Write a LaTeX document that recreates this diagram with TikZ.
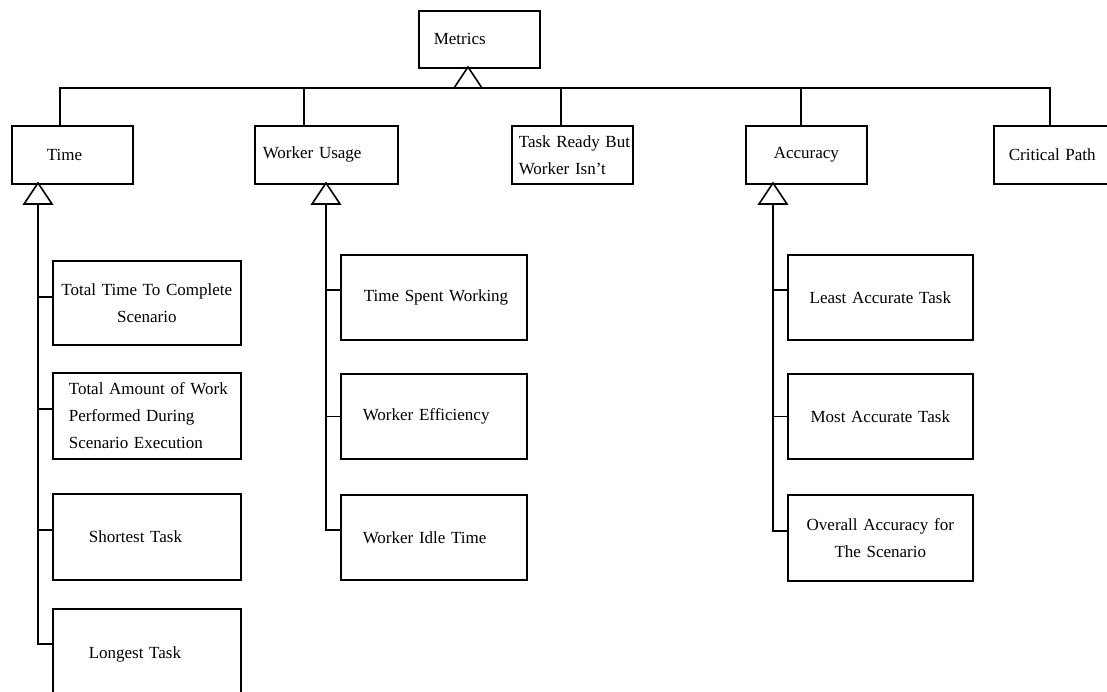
\documentclass[tikz,border=0pt]{standalone}
\usepackage{fontspec}
\setmainfont{Liberation Serif}
\begin{document}
\begin{tikzpicture}[x=1pt, y=-1pt, line width=1.6pt,
  box/.style={draw, fill=white, rectangle, anchor=north west,
    inner xsep=0pt, inner ysep=0pt, font=\fontsize{17}{27}\selectfont},
  size/.style 2 args={minimum width=#1, minimum height=#2, text width=#1},
  pad/.style={align=left, execute at begin node={\leftskip=#1pt}},
  mid/.style={align=center},
  gen/.pic={
    \draw[fill=white] (0,0) -- (-14,21) -- (14,21) -- cycle;
    \coordinate (-base) at (0,21);
  }]
\useasboundingbox (0,0) rectangle (1107,692);
\clip (0,0) rectangle (1107,692);

% root and first level
\node[box, size={121}{57}, pad=15] (metrics) at (418,10) {Metrics};
\node[box, size={121}{58}, pad=35] (time) at (11,125) {Time};
\node[box, size={143}{58}, pad=8] (wusage) at (254,125) {Worker Usage};
\node[box, size={121}{58}, pad=7] (ready) at (511,125) {Task Ready But\\Worker Isn’t};
\node[box, size={121}{58}, mid] (accuracy) at (745,125) {Accuracy};
\node[box, size={140}{58}, pad=15] (critical) at (993,125) {Critical Path};

% Time
\node[box, size={188}{84}, mid] (tt) at (52,260) {Total Time To Complete\\Scenario};
\node[box, size={188}{86}, pad=16] (ta) at (52,372) {Total Amount of Work\\Performed During\\Scenario Execution};
\node[box, size={188}{86}, pad=36] (st) at (52,493) {Shortest Task};
\node[box, size={188}{92}, pad=36] (lt) at (52,608) {Longest Task};

% Worker Usage
\node[box, size={186}{85}, pad=23] (tsw) at (340,254) {Time Spent Working};
\node[box, size={186}{85}, pad=22] (we) at (340,373) {Worker Efficiency};
\node[box, size={186}{85}, pad=22] (wit) at (340,494) {Worker Idle Time};

% Accuracy
\node[box, size={185}{85}, mid] (la) at (787,254) {Least Accurate Task};
\node[box, size={185}{85}, mid] (ma) at (787,373) {Most Accurate Task};
\node[box, size={185}{86}, mid] (oa) at (787,494) {Overall Accuracy for\\The Scenario};

% generalisation triangles
\pic (mgen) at (468,67) {gen};
\pic (tgen) at (38,183) {gen};
\pic (wgen) at (326,183) {gen};
\pic (agen) at (773,183) {gen};

% attachment points on the first-level boxes
\coordinate (time-in) at ([xshift=49pt]time.north west);
\coordinate (wu-in) at ([xshift=50pt]wusage.north west);
\coordinate (ready-in) at ([xshift=50pt]ready.north west);
\coordinate (acc-in) at ([xshift=56pt]accuracy.north west);
\coordinate (crit-in) at ([xshift=57pt]critical.north west);

% bus under Metrics
\draw (mgen-base) -| (time-in);
\draw (mgen-base) -| (crit-in);
\draw (wu-in) -- (wu-in |- mgen-base);
\draw (ready-in) -- (ready-in |- mgen-base);
\draw (acc-in) -- (acc-in |- mgen-base);

% attachment points on the children
\coordinate (tt-in) at ([yshift=6pt]tt.west);
\coordinate (ta-in) at ([yshift=7pt]ta.west);
\coordinate (st-in) at ([yshift=7pt]st.west);
\coordinate (lt-in) at ([yshift=11pt]lt.west);
\coordinate (tsw-in) at ([yshift=7.5pt]tsw.west);
\coordinate (we-in) at (we.west);
\coordinate (wit-in) at ([yshift=7.5pt]wit.west);
\coordinate (la-in) at ([yshift=7.5pt]la.west);
\coordinate (ma-in) at (ma.west);
\coordinate (oa-in) at ([yshift=7pt]oa.west);

% spines with branches
\draw (tgen-base) |- (lt-in);
\draw (tt-in) -- (tt-in -| tgen-base);
\draw (ta-in) -- (ta-in -| tgen-base);
\draw (st-in) -- (st-in -| tgen-base);

\draw (wgen-base) |- (wit-in);
\draw (tsw-in) -- (tsw-in -| wgen-base);
\draw (we-in) -- (we-in -| wgen-base);

\draw (agen-base) |- (oa-in);
\draw (la-in) -- (la-in -| agen-base);
\draw (ma-in) -- (ma-in -| agen-base);
\end{tikzpicture}
\end{document}
